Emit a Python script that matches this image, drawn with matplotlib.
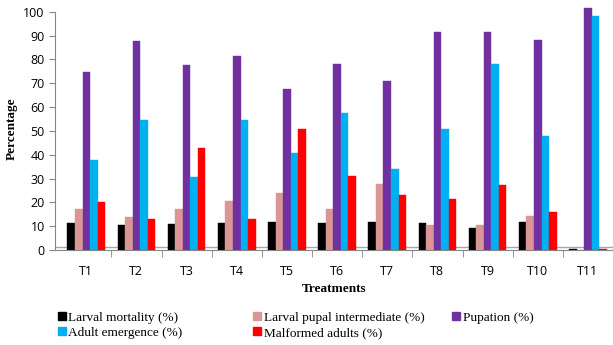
import matplotlib.pyplot as plt
from matplotlib.patches import Patch
import numpy as np

# values
treatments = ["T1", "T2", "T3", "T4", "T5", "T6", "T7", "T8", "T9", "T10", "T11"]
larval_mortality = [11.2, 10.5, 10.9, 11.2, 11.9, 11.2, 11.7, 11.4, 9.3, 11.6, 0.3]
pupal_intermediate = [17.4, 14.0, 17.4, 20.6, 24.1, 17.4, 27.6, 10.6, 10.6, 14.2, 0.2]
pupation = [74.6, 87.9, 77.8, 81.2, 67.6, 78.1, 71.1, 91.4, 91.4, 88.1, 101.5]
adult_emergence = [37.7, 54.4, 30.7, 54.4, 40.9, 57.7, 34.2, 51.0, 78.1, 47.7, 98.2]
malformed = [20.2, 13.0, 42.8, 13.0, 51.0, 31.0, 23.0, 21.3, 27.2, 16.0, 0.5]

series = [larval_mortality, pupal_intermediate, pupation, adult_emergence, malformed]
labels = ["Larval mortality (%)", "Larval pupal intermediate (%)", "Pupation (%)",
          "Adult emergence (%)", "Malformed adults (%)"]
colors = ["#000000", "#D99694", "#7030A0", "#00B0F0", "#FF0000"]

fig = plt.figure(figsize=(6.13, 3.45), dpi=100)
ax = fig.add_axes([0.09, 0.275, 0.91, 0.705])

x = np.arange(len(treatments))
w = 0.15
for i, (vals, c) in enumerate(zip(series, colors)):
    ax.bar(x + (i - 2) * w, vals, w, color=c, edgecolor=c, linewidth=0.3, zorder=3)

# 3d-ish floor line
ax.axhline(1.3, color="#A6A6A6", lw=1, zorder=1)

ax.set_xlim(-0.62, 10.5)
ax.set_ylim(0, 102)
ax.set_yticks(range(0, 101, 10))
ax.spines["left"].set_bounds(0, 100)
for s in ["top", "right"]:
    ax.spines[s].set_visible(False)
for s in ["left", "bottom"]:
    ax.spines[s].set_color("#868686")

ax.set_xticks(x)
ax.set_xticklabels(treatments, fontsize=9, family="Open Sans")
ax.set_xticks(np.arange(len(treatments)) + 0.5, minor=True)
ax.tick_params(axis="x", which="major", length=0, pad=11)
ax.tick_params(axis="x", which="minor", length=5, color="#868686")
ax.tick_params(axis="y", length=4, color="#868686", labelsize=9)
for t in ax.get_yticklabels():
    t.set_family("Open Sans")

ax.set_ylabel("Percentage", family="Liberation Serif", fontweight="bold", fontsize=9.5, labelpad=4)
ax.set_xlabel("Treatments", family="Liberation Serif", fontweight="bold", fontsize=9.5, labelpad=3)

# legend laid out in three fixed columns like the original
handles = [Patch(color=c, label=l) for c, l in zip(colors, labels)]
cols = [([0, 3], 0.094), ([1, 4], 0.413), ([2], 0.738)]
for idx, xpos in cols:
    fig.legend([handles[k] for k in idx], [labels[k] for k in idx],
               loc="upper left", bbox_to_anchor=(xpos, 0.097), frameon=False,
               prop={"family": "Liberation Serif", "size": 9.5},
               handlelength=0.6, handleheight=0.6, handletextpad=0.2,
               labelspacing=0.25, borderpad=0, borderaxespad=0)

plt.savefig("out.png", dpi=100)
